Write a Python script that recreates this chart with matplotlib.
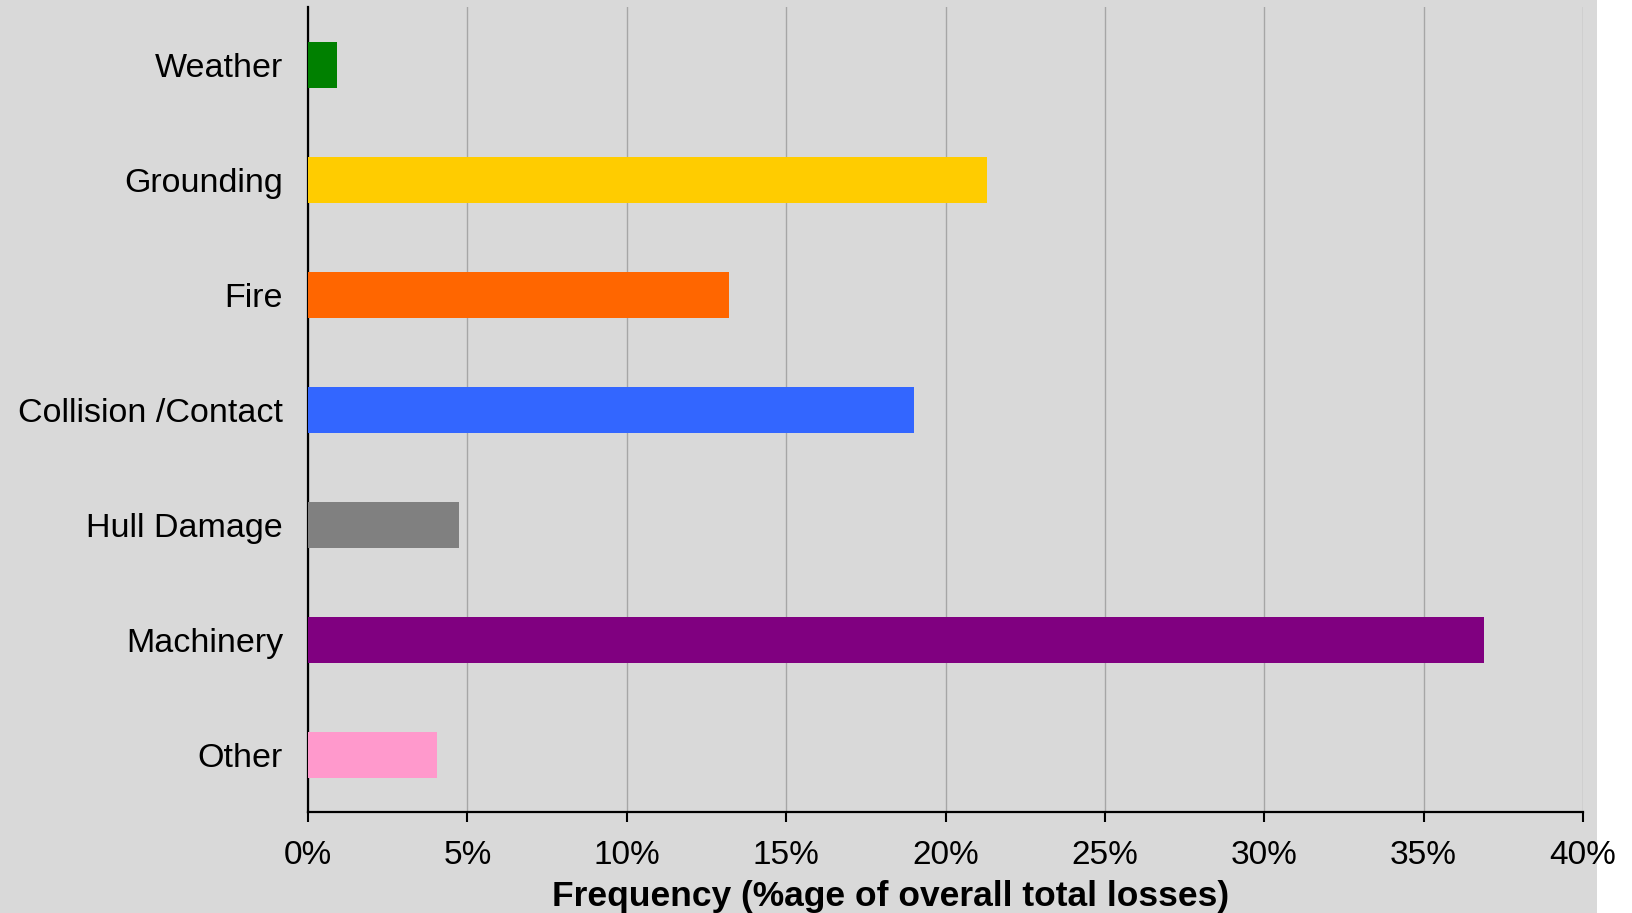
import matplotlib
matplotlib.use("Agg")
import matplotlib.pyplot as plt
from matplotlib.patches import Rectangle
from matplotlib.ticker import FuncFormatter

# loss causes, top to bottom
causes = ["Weather", "Grounding", "Fire", "Collision /Contact",
          "Hull Damage", "Machinery", "Other"]
freq = [0.9, 21.3, 13.2, 19.0, 4.75, 36.9, 4.05]   # % of overall total losses
colors = ["#008000", "#FFCC00", "#FF6600", "#3366FF",
          "#808080", "#800080", "#FF99CC"]
xticks = [0, 5, 10, 15, 20, 25, 30, 35, 40]

bg = "#d9d9d9"
plt.rcParams['font.family'] = ['Liberation Sans', 'DejaVu Sans']

fig = plt.figure(figsize=(16.33, 9.13), dpi=100, facecolor=bg)
# white strip on the right edge
fig.patches.append(Rectangle((0.978, 0), 0.03, 1, transform=fig.transFigure,
                             facecolor="white", edgecolor="none", zorder=-1))

ax = fig.add_axes([0.1886, 0.1106, 0.7808, 0.8817])
ax.set_facecolor(bg)

ypos = list(range(len(causes)))
ax.barh(ypos, freq, height=0.4, color=colors, zorder=3)

ax.set_ylim(len(causes) - 0.5, -0.5)
ax.set_xlim(0, 40)
ax.set_yticks(ypos)
ax.set_yticklabels(causes, fontsize=24.5)
ax.tick_params(axis="y", length=0, pad=18)

ax.set_xticks(xticks)
ax.xaxis.set_major_formatter(FuncFormatter(lambda v, p: "%d%%" % v))
ax.tick_params(axis="x", direction="out", length=7, width=1.5, labelsize=24, pad=13)

ax.grid(axis="x", color="#a6a6a6", linewidth=1, zorder=0)
ax.set_axisbelow(True)

for s in ["top", "right"]:
    ax.spines[s].set_visible(False)
for s in ["left", "bottom"]:
    ax.spines[s].set_linewidth(1.6)
    ax.spines[s].set_color("black")

fig.text(0.5456, 0.0075, "Frequency (%age of overall total losses)",
         ha="center", va="baseline", fontsize=25.5, fontweight="bold")

fig.savefig("out.png", dpi=100, facecolor=bg)
